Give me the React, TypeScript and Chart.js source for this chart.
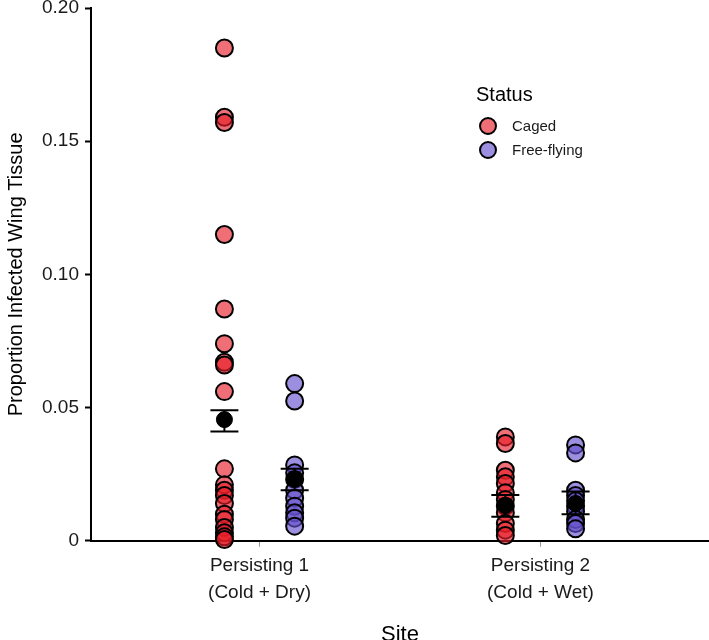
import React, { useEffect, useRef } from 'react';
import { Chart, registerables } from 'chart.js';

Chart.register(...registerables);

// ---- Data ----
const siteNames = ['Persisting 1', 'Persisting 2'];
const siteConditions = ['(Cold + Dry)', '(Cold + Wet)'];
const statusLabels = ['Caged', 'Free-flying'];
const yTickValues = [0, 0.05, 0.1, 0.15, 0.2];

const cagedSite1 = [0.185, 0.159, 0.157, 0.115, 0.087, 0.074, 0.067, 0.066, 0.056, 0.027, 0.021, 0.019, 0.017, 0.014, 0.010, 0.008, 0.005, 0.003, 0.0015, 0.0005];
const freeSite1 = [0.059, 0.0525, 0.0285, 0.0255, 0.023, 0.019, 0.016, 0.013, 0.0105, 0.0085, 0.0055];
const cagedSite2 = [0.039, 0.0365, 0.0265, 0.024, 0.0215, 0.018, 0.0155, 0.013, 0.0105, 0.0065, 0.004, 0.002];
const freeSite2 = [0.036, 0.033, 0.019, 0.017, 0.015, 0.013, 0.011, 0.008, 0.0065, 0.0045];

const meanCaged = [0.0455, 0.0132];
const upperCaged = [0.049, 0.0172];
const lowerCaged = [0.041, 0.009];
const meanFree = [0.023, 0.014];
const upperFree = [0.027, 0.0185];
const lowerFree = [0.019, 0.010];

// ---- Style ----
const DODGE = 0.125;
const CAGED_FILL = 'rgba(232, 30, 40, 0.64)';
const FREE_FILL = 'rgba(100, 80, 205, 0.64)';
const FONT = '"Liberation Sans", Arial, Helvetica, sans-serif';

const errorBarPlugin = {
  id: 'errorBars',
  afterDatasetsDraw(chart: any) {
    const { ctx, scales } = chart;
    const xs = scales.x;
    const ys = scales.y;
    const groups = [
      { off: -DODGE, up: upperCaged, lo: lowerCaged },
      { off: DODGE, up: upperFree, lo: lowerFree },
    ];
    ctx.save();
    ctx.strokeStyle = '#000';
    ctx.lineWidth = 2;
    siteNames.forEach((_, i) => {
      groups.forEach((g) => {
        const x = xs.getPixelForValue(i + 1 + g.off);
        const yHi = ys.getPixelForValue(g.up[i]);
        const yLo = ys.getPixelForValue(g.lo[i]);
        const half = 14;
        ctx.beginPath();
        ctx.moveTo(x, yHi);
        ctx.lineTo(x, yLo);
        ctx.moveTo(x - half, yHi);
        ctx.lineTo(x + half, yHi);
        ctx.moveTo(x - half, yLo);
        ctx.lineTo(x + half, yLo);
        ctx.stroke();
      });
    });
    ctx.restore();
  },
};

const legendPlugin = {
  id: 'statusLegend',
  afterDraw(chart: any) {
    const { ctx } = chart;
    ctx.save();
    ctx.fillStyle = '#000';
    ctx.textBaseline = 'middle';
    ctx.textAlign = 'left';
    ctx.font = `20px ${FONT}`;
    ctx.fillText('Status', 476, 95);
    const fills = [CAGED_FILL, FREE_FILL];
    statusLabels.forEach((label, i) => {
      const cy = 126 + i * 24;
      ctx.beginPath();
      ctx.arc(488, cy, 8, 0, Math.PI * 2);
      ctx.fillStyle = fills[i];
      ctx.fill();
      ctx.lineWidth = 2;
      ctx.strokeStyle = '#000';
      ctx.stroke();
      ctx.fillStyle = '#1a1a1a';
      ctx.font = `15px ${FONT}`;
      ctx.fillText(label, 512, cy + 1);
    });
    ctx.restore();
  },
};

export default function App() {
  const canvasRef = useRef<HTMLCanvasElement | null>(null);

  useEffect(() => {
    document.body.style.margin = '0';
    const canvas = canvasRef.current;
    if (!canvas) return;

    const cagedPoints = [
      ...cagedSite1.map((y) => ({ x: 1 - DODGE, y })),
      ...cagedSite2.map((y) => ({ x: 2 - DODGE, y })),
    ];
    const freePoints = [
      ...freeSite1.map((y) => ({ x: 1 + DODGE, y })),
      ...freeSite2.map((y) => ({ x: 2 + DODGE, y })),
    ];
    const meanPoints = [
      ...meanCaged.map((y, i) => ({ x: i + 1 - DODGE, y })),
      ...meanFree.map((y, i) => ({ x: i + 1 + DODGE, y })),
    ];

    const chart = new Chart(canvas, {
      type: 'scatter',
      data: {
        datasets: [
          {
            label: 'Mean',
            data: meanPoints,
            order: 0,
            clip: false,
            pointRadius: 8,
            pointBackgroundColor: '#000',
            pointBorderColor: '#000',
            pointBorderWidth: 1,
          },
          {
            label: statusLabels[0],
            data: cagedPoints,
            order: 2,
            clip: false,
            pointRadius: 8.5,
            pointBackgroundColor: CAGED_FILL,
            pointBorderColor: '#000',
            pointBorderWidth: 2,
          },
          {
            label: statusLabels[1],
            data: freePoints,
            order: 1,
            clip: false,
            pointRadius: 8.5,
            pointBackgroundColor: FREE_FILL,
            pointBorderColor: '#000',
            pointBorderWidth: 2,
          },
        ],
      },
      options: {
        animation: false,
        responsive: false,
        maintainAspectRatio: false,
        layout: { autoPadding: false, padding: { top: 8, right: 0, left: 4, bottom: -6 } },
        plugins: {
          legend: { display: false },
          tooltip: { enabled: false },
        },
        scales: {
          x: {
            type: 'linear',
            min: 0.4,
            max: 2.6,
            afterBuildTicks: (axis: any) => {
              axis.ticks = siteNames.map((_, i) => ({ value: i + 1 }));
            },
            afterFit: (axis: any) => {
              axis.paddingLeft = 0;
              axis.paddingRight = 0;
            },
            ticks: {
              autoSkip: false,
              maxRotation: 0,
              color: '#1a1a1a',
              font: { size: 19, family: FONT, lineHeight: 1.4 },
              padding: 6,
              callback: (v: any) => {
                const i = Math.round(Number(v)) - 1;
                return [siteNames[i], siteConditions[i]];
              },
            },
            grid: {
              drawOnChartArea: false,
              drawTicks: true,
              tickLength: 6,
              tickColor: '#999',
              tickWidth: 1,
            },
            border: { display: true, color: '#000', width: 2 },
            title: {
              display: true,
              text: 'Site',
              color: '#000',
              font: { size: 22, family: FONT, lineHeight: 1 },
              padding: { top: 12, bottom: 0 },
            },
          },
          y: {
            type: 'linear',
            min: 0,
            max: 0.2,
            afterBuildTicks: (axis: any) => {
              axis.ticks = yTickValues.map((v) => ({ value: v }));
            },
            afterFit: (axis: any) => {
              axis.paddingTop = 0;
              axis.paddingBottom = 0;
            },
            ticks: {
              color: '#1a1a1a',
              font: { size: 19, family: FONT, lineHeight: 1 },
              padding: 6,
              callback: (v: any) => (Number(v) === 0 ? '0' : Number(v).toFixed(2)),
            },
            grid: {
              drawOnChartArea: false,
              drawTicks: true,
              tickLength: 6,
              tickColor: '#000',
              tickWidth: 2,
            },
            border: { display: true, color: '#000', width: 2 },
            title: {
              display: true,
              text: 'Proportion Infected Wing Tissue',
              color: '#000',
              font: { size: 20, family: FONT },
              padding: { top: 0, bottom: 8 },
            },
          },
        },
      },
      plugins: [errorBarPlugin, legendPlugin],
    });

    return () => chart.destroy();
  }, []);

  return (
    <div style={{ width: 709, height: 640 }}>
      <canvas ref={canvasRef} width={709} height={640} style={{ display: 'block', width: 709, height: 640 }} />
    </div>
  );
}
